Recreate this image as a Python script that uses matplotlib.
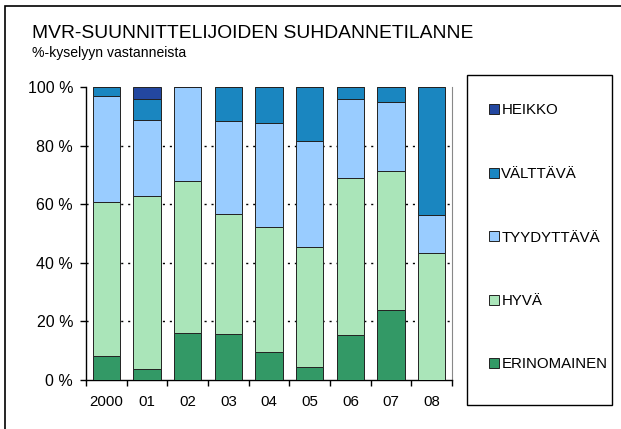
import numpy as np
import matplotlib
matplotlib.use("Agg")
import matplotlib.pyplot as plt
from matplotlib.patches import Rectangle, Patch

plt.rcParams['font.family'] = ['Liberation Sans', 'DejaVu Sans']

# survey shares (%) per year
years = ["2000", "01", "02", "03", "04", "05", "06", "07", "08"]
erinomainen = [8.3, 3.6, 15.9, 15.8, 9.4, 4.5, 15.3, 23.9, 0.0]
hyva = [52.6, 59.2, 52.1, 40.9, 42.9, 40.8, 53.8, 47.5, 43.5]
tyydyttava = [36.1, 25.8, 32.0, 31.7, 35.5, 36.3, 26.8, 23.6, 12.8]
valttava = [3.0, 7.4, 0.0, 11.6, 12.2, 18.4, 4.1, 5.0, 43.7]
heikko = [0.0, 4.0, 0.0, 0.0, 0.0, 0.0, 0.0, 0.0, 0.0]

series = [
    ("ERINOMAINEN", erinomainen, "#339966"),
    ("HYVÄ", hyva, "#aae5b9"),
    ("TYYDYTTÄVÄ", tyydyttava, "#99ccff"),
    ("VÄLTTÄVÄ", valttava, "#1a86c0"),
    ("HEIKKO", heikko, "#2347a0"),
]

W, H = 621, 429
fig = plt.figure(figsize=(W / 100, H / 100), dpi=100)
ax = fig.add_axes([86 / W, 1 - 380 / H, 366 / W, 293 / H])

x = np.arange(len(years))
bottom = np.zeros(len(years))
for name, vals, col in series:
    vals = np.array(vals)
    ax.bar(x, vals, width=0.67, bottom=bottom, color=col,
           edgecolor="#222222", linewidth=0.7, zorder=3)
    bottom += vals

ax.set_xlim(-0.5, len(years) - 0.5)
ax.set_ylim(0, 100)
ax.set_yticks([0, 20, 40, 60, 80, 100])
ax.set_yticklabels(["0 %", "20 %", "40 %", "60 %", "80 %", "100 %"], fontsize=11.5)
ax.set_xticks(x)
ax.set_xticklabels(years, fontsize=10.8)
ax.set_xticks(np.arange(-0.5, len(years)), minor=True)
ax.tick_params(axis='x', which='major', length=0, pad=11)
ax.tick_params(axis='x', which='minor', length=4, width=1, direction='out')
ax.tick_params(axis='y', length=4.3, width=1, direction='out', pad=5)

for yv in [20, 40, 60, 80]:
    ax.axhline(yv, color="black", linewidth=1, linestyle=(0, (1.5, 3.5)), zorder=1)

ax.spines['top'].set_visible(False)
ax.spines['right'].set_color("#888888")
ax.spines['left'].set_linewidth(1)
ax.spines['bottom'].set_linewidth(1)

# titles
fig.text(32 / W, 1 - 37.5 / H, "MVR-SUUNNITTELIJOIDEN SUHDANNETILANNE",
         fontsize=13.9, va='baseline', ha='left')
fig.text(32 / W, 1 - 56.5 / H, "%-kyselyyn vastanneista",
         fontsize=10.1, va='baseline', ha='left')

# outer frame and legend frame
fig.patches.append(Rectangle((5 / W, -0.1), 1.1, 1.1 - 6 / H,
                             transform=fig.transFigure, fill=False,
                             edgecolor="black", linewidth=1.2, clip_on=False))
fig.patches.append(Rectangle((467 / W, 1 - 405 / H), 145 / W, 330 / H,
                             transform=fig.transFigure, fill=False,
                             edgecolor="black", linewidth=1.0))

handles = [Patch(facecolor=col, edgecolor="#222222", linewidth=0.7, label=name)
           for name, vals, col in reversed(series)]
fig.legend(handles=handles, loc='center left',
           bbox_to_anchor=(489 / W, 1 - 237.5 / H), frameon=False,
           fontsize=10.8, labelspacing=3.3, handlelength=0.67, handleheight=0.67,
           handletextpad=0.15, borderpad=0, borderaxespad=0)

fig.savefig("out.png", dpi=100)
